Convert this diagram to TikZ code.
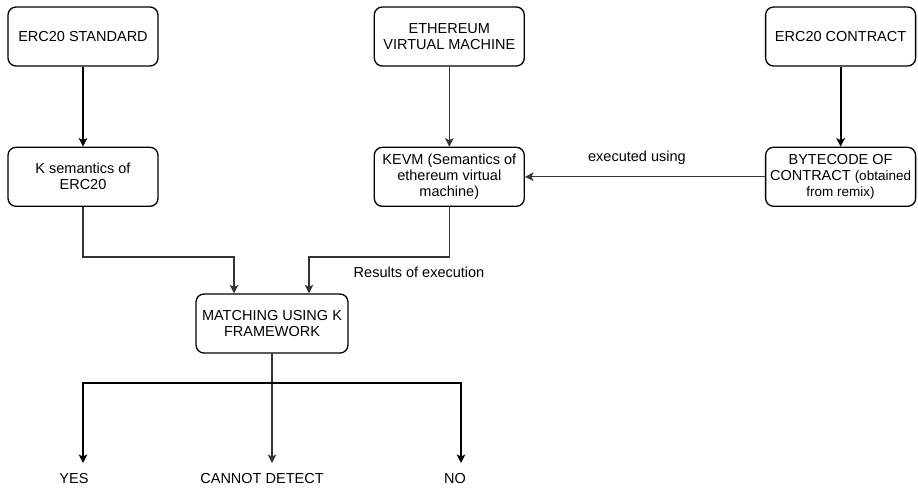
\documentclass[tikz,border=0pt]{standalone}
\usepackage{fontspec}
\setmainfont{Liberation Sans}
\usetikzlibrary{arrows.meta,positioning}

\begin{document}
\begin{tikzpicture}[
  x=1pt,y=-1pt,
  font=\fontsize{14.5}{16}\selectfont,
  >={Stealth[length=8.5pt,width=8.5pt,inset=2pt]},
  edge/.style={->,line width=1.3pt,draw=black!80},
  heavy/.style={->,line width=2pt,draw=black},
  box/.style={draw,line width=1.3pt,rounded corners=8pt,align=center,
              minimum width=150pt,minimum height=59pt,inner sep=1pt},
  lbl/.style={inner sep=1pt}
]
\useasboundingbox (0,0) rectangle (918,488);

% inputs
\node[box] (std) at (83,36.5) {ERC20 STANDARD};
\node[box,right=215pt of std] (evm) {ETHEREUM\\VIRTUAL MACHINE};
\node[box,right=240pt of evm] (con) {ERC20 CONTRACT};

% semantics
\node[box,below=80pt of std] (ksem) {K semantics of\\ERC20};
\node[box,below=80pt of evm] (kevm)
  {KEVM (Semantics of\\ethereum virtual\\machine)};
\node[box,below=80pt of con] (bcode)
  {BYTECODE OF\\CONTRACT {\fontsize{13.5}{15}\selectfont(obtained}\\
   {\fontsize{13.5}{15}\selectfont from remix)}};

\node[box,minimum width=152pt] (match) at (272,323.5)
  {MATCHING USING K\\FRAMEWORK};
\node[lbl] (res) at (419,272) {Results of execution};

% outcomes
\coordinate (fork) at (272,383);
\coordinate (yesend) at (83,463);
\coordinate (cdend) at (272,463);
\coordinate (noend) at (461,463);
\node[lbl] (yes) at (74,478) {YES};
\node[lbl] (cd) at (262,478) {CANNOT DETECT};
\node[lbl] (no) at (455,478) {NO};

\draw[heavy] (std) -- (ksem);
\draw[edge] (evm) -- (kevm);
\draw[heavy] (con) -- (bcode);
\draw[edge] (bcode) -- node[lbl,above=11pt,xshift=-8pt] {executed using} (kevm);
\draw[edge] (ksem.south) -- ++(0,50) -| ([xshift=-38pt]match.north);
\draw[edge] (kevm.south) -- ++(0,50) -| ([xshift=37pt]match.north);
\draw[edge] (match) -- (cdend);
\draw[heavy] (fork) -| (yesend);
\draw[heavy] (fork) -| (noend);
\end{tikzpicture}
\end{document}
